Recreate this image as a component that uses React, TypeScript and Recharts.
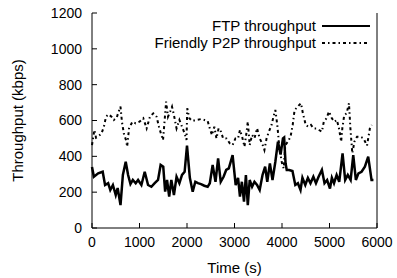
import { Legend, Line, LineChart, XAxis, YAxis } from "recharts";

const font = "'Liberation Sans', Arial, Helvetica, sans-serif";

const timeTicks = [0, 1000, 2000, 3000, 4000, 5000, 6000];
const rateTicks = [0, 200, 400, 600, 800, 1000, 1200];

const ftpTime = [
  0, 40, 130, 225, 275, 340, 385, 440, 500, 540, 600, 650, 710, 760, 810, 860, 920, 970,
  1040, 1110, 1180, 1250, 1320, 1390, 1445, 1500, 1540, 1580, 1625, 1670, 1725, 1780, 1840,
  1895, 1950, 2000, 2060, 2120, 2175, 2230, 2295, 2365, 2435, 2480, 2540, 2600, 2655, 2710,
  2770, 2825, 2880, 2960, 3025, 3075, 3115, 3155, 3200, 3240, 3280, 3320, 3370, 3420, 3475,
  3530, 3590, 3645, 3690, 3745, 3800, 3860, 3915, 3970, 4020, 4045, 4075, 4100, 4150, 4220,
  4280, 4335, 4390, 4430, 4490, 4545, 4600, 4660, 4715, 4770, 4840, 4895, 4950, 5010, 5050,
  5095, 5150, 5205, 5275, 5330, 5385, 5445, 5500, 5555, 5610, 5675, 5745, 5815, 5885, 5925,
];
const ftpValues = [
  340, 286, 305, 314, 240, 250, 212, 240, 184, 223, 128, 296, 370, 296, 245, 268, 250, 268,
  240, 314, 240, 230, 250, 268, 352, 342, 203, 268, 175, 268, 184, 286, 250,
  296, 314, 460, 280, 203, 258, 250, 245, 236, 230, 250, 352, 258, 389, 258,
  286, 324, 333, 407, 240, 280, 175, 258, 147, 296, 128, 268, 230, 258, 240,
  212, 296, 342, 258, 361, 268, 370, 482, 410, 500, 505, 361, 324, 324, 318,
  240, 250, 212, 280, 240, 280, 250, 286, 250, 286, 324, 250, 268, 220, 280,
  250, 296, 258, 417, 268, 296, 268, 407, 268, 305, 314, 342, 398, 268, 268,
];

const p2pTime = [
  0, 50, 85, 130, 200, 250, 295, 350, 410, 460, 520, 560, 600, 630, 670, 715, 740, 780, 850,
  920, 1000, 1080, 1150, 1220, 1290, 1360, 1410, 1450, 1495, 1530, 1560, 1600, 1645, 1685,
  1725, 1780, 1840, 1895, 1950, 1990, 2005, 2050, 2110, 2190, 2295, 2365, 2435, 2480, 2525,
  2575, 2620, 2665, 2715, 2760, 2830, 2900, 2960, 3020, 3075, 3115, 3160, 3210, 3250, 3280,
  3320, 3370, 3420, 3475, 3530, 3580, 3630, 3675, 3725, 3780, 3820, 3860, 3905, 3945, 4000,
  4035, 4070, 4125, 4180, 4225, 4265, 4315, 4360, 4400, 4440, 4500, 4555, 4610, 4665, 4725,
  4780, 4840, 4880, 4935, 4990, 5050, 5105, 5155, 5200, 5245, 5270, 5310, 5360, 5410, 5440,
  5480, 5525, 5580, 5645, 5715, 5790, 5850, 5890,
];
const p2pValues = [
  463, 547, 504, 510, 528, 565, 621, 634, 621, 603, 616, 649, 677, 593, 528, 491, 454, 556, 593,
  584, 593, 612, 556, 621, 640, 621, 565, 528, 491, 603, 705, 621, 649, 677,
  630, 556, 603, 565, 528, 491, 668, 612, 597, 603, 608, 603, 597, 556, 519,
  565, 500, 556, 538, 500, 500, 473, 463, 500, 500, 547, 510, 454, 528, 593,
  463, 519, 500, 556, 500, 473, 435, 500, 538, 575, 621, 659, 565, 445, 361,
  333, 463, 482, 510, 575, 659, 672, 686, 696, 640, 575, 565, 575, 556, 556,
  547, 538, 593, 612, 650, 612, 593, 603, 556, 482, 556, 630, 640, 696, 556,
  417, 482, 510, 510, 500, 460, 556, 575,
];

const ftpData = ftpTime.map((t, i) => ({ t, v: ftpValues[i] }));
const p2pData = p2pTime.map((t, i) => ({ t, v: p2pValues[i] }));

const tickStyle = { fill: "#000", fontSize: 14, fontFamily: font };

const LegendBox = (props: any) => {
  const items = props.payload || [];
  return (
    <div style={{ fontFamily: font, fontSize: 15, lineHeight: "17px", color: "#000" }}>
      {items.map((item: any) => (
        <div
          key={item.value}
          style={{ display: "flex", alignItems: "center", justifyContent: "flex-end" }}
        >
          <span>{item.value}</span>
          <svg width={48} height={10} style={{ marginLeft: 6 }}>
            <line
              x1={0}
              y1={5}
              x2={48}
              y2={5}
              stroke="#000"
              strokeWidth={2}
              strokeDasharray={item.payload?.strokeDasharray}
            />
          </svg>
        </div>
      ))}
    </div>
  );
};

export default function App() {
  return (
    <div style={{ position: "absolute", left: 0, top: 0, background: "#fff" }}>
      <LineChart width={397} height={278} margin={{ top: 13, right: 0, bottom: 0, left: 0 }}>
        <XAxis
          dataKey="t"
          type="number"
          domain={[0, 6000]}
          ticks={timeTicks}
          height={50}
          stroke="#000"
          tickSize={-5}
          tickMargin={14}
          tick={tickStyle}
          label={{
            value: "Time (s)",
            position: "insideBottom",
            offset: 5,
            style: { fill: "#000", fontSize: 15, fontFamily: font },
          }}
        />
        <XAxis
          xAxisId="top"
          orientation="top"
          type="number"
          domain={[0, 6000]}
          ticks={timeTicks}
          height={0}
          stroke="#000"
          tickSize={-5}
          tick={false}
        />
        <YAxis
          type="number"
          domain={[0, 1200]}
          ticks={rateTicks}
          width={92}
          stroke="#000"
          tickSize={-5}
          tickMargin={15}
          tick={tickStyle}
          label={{
            value: "Throughput (kbps)",
            angle: -90,
            position: "insideLeft",
            offset: 18,
            style: { fill: "#000", fontSize: 15, fontFamily: font, textAnchor: "middle" },
          }}
        />
        <YAxis
          yAxisId="right"
          orientation="right"
          type="number"
          domain={[0, 1200]}
          ticks={rateTicks}
          width={20}
          stroke="#000"
          tickSize={-5}
          tick={false}
        />
        <Legend
          layout="vertical"
          align="center"
          verticalAlign="middle"
          wrapperStyle={{ top: 17, right: 27, left: "auto", width: "auto" }}
          content={<LegendBox />}
        />
        <Line
          data={ftpData}
          dataKey="v"
          name="FTP throughput"
          stroke="#000"
          strokeWidth={2.5}
          dot={false}
          isAnimationActive={false}
        />
        <Line
          data={p2pData}
          dataKey="v"
          name="Friendly P2P throughput"
          stroke="#000"
          strokeWidth={2}
          strokeDasharray="3 3 1.5 3"
          dot={false}
          isAnimationActive={false}
        />
      </LineChart>
    </div>
  );
}
